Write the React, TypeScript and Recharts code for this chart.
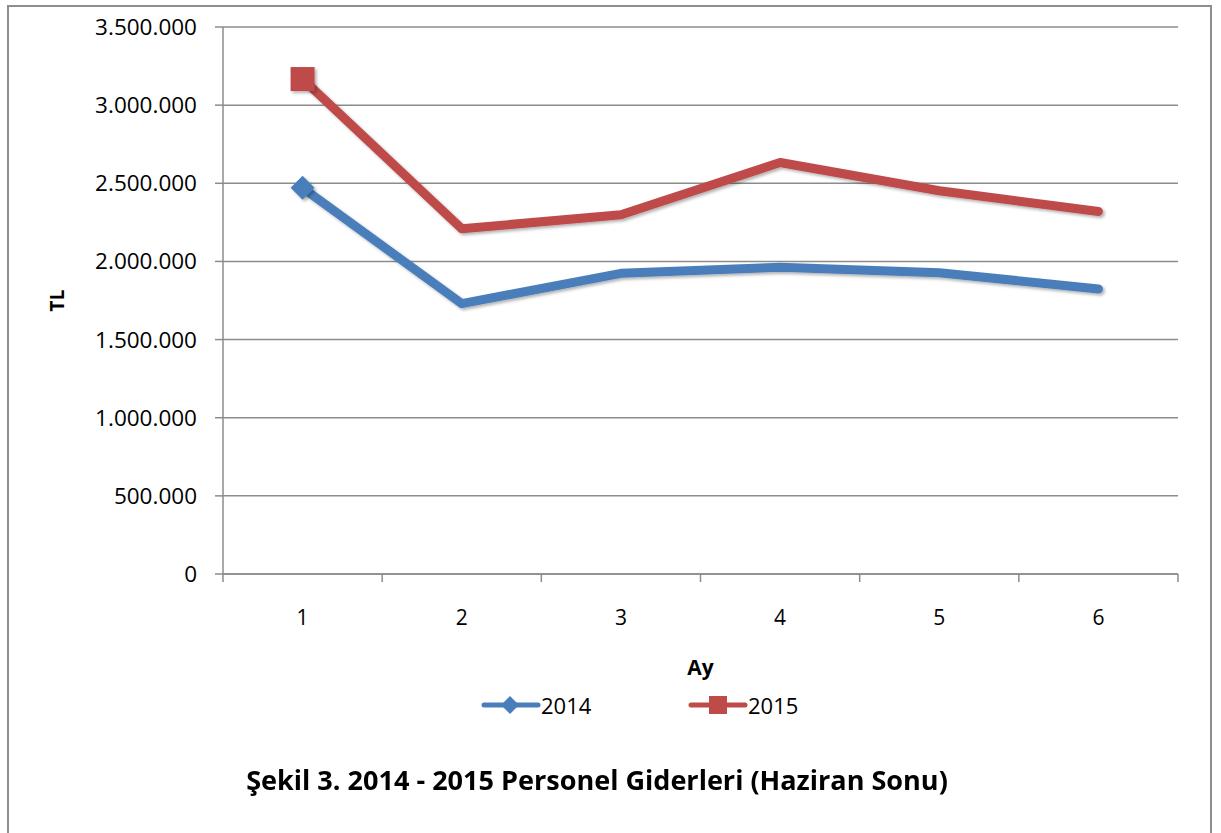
import { LineChart, Line, XAxis, YAxis, CartesianGrid, Legend } from "recharts";

const months = [1, 2, 3, 4, 5, 6];
const values2014 = [2471000, 1730000, 1924000, 1962000, 1928000, 1824000];
const values2015 = [3167000, 2209000, 2299000, 2633000, 2452000, 2320000];
const yTicks = [0, 500000, 1000000, 1500000, 2000000, 2500000, 3000000, 3500000];
const xTicks = [0.5, 1, 1.5, 2, 2.5, 3, 3.5, 4, 4.5, 5, 5.5, 6, 6.5];

const BLUE = "#4A7EBB";
const RED = "#BE4B48";
const GRID = "#8C8C8C";
const FONT = "'Open Sans', 'Liberation Sans', sans-serif";

const data = months.map((m, i) => ({ month: m, y2014: values2014[i], y2015: values2015[i] }));

const fmt = (v: number) => String(v).replace(/\B(?=(\d{3})+(?!\d))/g, ".");

const XTick = (props: any) => {
  const { x, y, payload } = props;
  if (Number.isInteger(payload.value)) {
    return (
      <text x={x} y={y + 43} textAnchor="middle" fontSize={21} fontFamily={FONT} fill="#000">
        {payload.value}
      </text>
    );
  }
  return <line x1={x} y1={y - 8} x2={x} y2={y} stroke={GRID} strokeWidth={1.5} />;
};

const FirstDiamond = (props: any) => {
  const { cx, cy, index } = props;
  if (index !== 0) return <g key={`d-${index}`} />;
  const r = 12;
  return (
    <polygon
      key={`d-${index}`}
      points={`${cx},${cy - r} ${cx + r},${cy} ${cx},${cy + r} ${cx - r},${cy}`}
      fill={BLUE}
      filter="url(#shadow)"
    />
  );
};

const FirstSquare = (props: any) => {
  const { cx, cy, index } = props;
  if (index !== 0) return <g key={`s-${index}`} />;
  const s = 12;
  return <rect key={`s-${index}`} x={cx - s} y={cy - s} width={s * 2} height={s * 2} fill={RED} filter="url(#shadow)" />;
};

const LegendContent = () => (
  <div style={{ fontFamily: FONT, fontSize: 22, color: "#000" }}>
    <svg width={60} height={24} style={{ position: "absolute", left: 481, top: 0 }}>
      <line x1={3} y1={12} x2={57} y2={12} stroke={BLUE} strokeWidth={5} strokeLinecap="round" />
      <polygon points="29,3 38,12 29,21 20,12" fill={BLUE} />
    </svg>
    <span style={{ position: "absolute", left: 541, top: -3 }}>2014</span>
    <svg width={60} height={24} style={{ position: "absolute", left: 688, top: 0 }}>
      <line x1={3} y1={12} x2={57} y2={12} stroke={RED} strokeWidth={5} strokeLinecap="round" />
      <rect x={21} y={3} width={18} height={18} fill={RED} />
    </svg>
    <span style={{ position: "absolute", left: 748, top: -3 }}>2015</span>
  </div>
);

export default function App() {
  return (
    <div style={{ position: "absolute", left: 0, top: 0, width: 1221, height: 833, background: "#fff", overflow: "hidden" }}>
      <div
        style={{
          position: "absolute",
          left: 7,
          top: 5,
          width: 1205,
          height: 840,
          border: "2px solid #8E8E8E",
          boxSizing: "border-box",
        }}
      />
      <LineChart width={1221} height={833} data={data} margin={{ top: 27, right: 43, left: 0, bottom: 139 }}>
        <defs>
          <filter id="shadow" x="-30%" y="-30%" width="160%" height="160%">
            <feDropShadow dx={2} dy={2} stdDeviation={1.5} floodColor="#000" floodOpacity={0.3} />
          </filter>
        </defs>
        <CartesianGrid vertical={false} stroke={GRID} strokeWidth={1.5} />
        <XAxis
          dataKey="month"
          type="number"
          domain={[0.5, 6.5]}
          ticks={xTicks}
          interval={0}
          height={120}
          tickSize={8}
          tickMargin={0}
          tickLine={false}
          tick={<XTick />}
          axisLine={{ stroke: GRID, strokeWidth: 1.5 }}
          label={{
            content: (p: any) => (
              <text
                x={p.viewBox.x + p.viewBox.width / 2}
                y={p.viewBox.y + 101}
                textAnchor="middle"
                fontSize={21}
                fontWeight="bold"
                fontFamily={FONT}
                fill="#000"
              >
                Ay
              </text>
            ),
          }}
        />
        <YAxis
          domain={[0, 3500000]}
          ticks={yTicks}
          interval={0}
          width={223}
          tickSize={8}
          tickMargin={18}
          tickFormatter={fmt}
          tick={{ fill: "#000", fontSize: 22.5, fontFamily: FONT }}
          tickLine={{ stroke: GRID, strokeWidth: 1.5 }}
          axisLine={{ stroke: GRID, strokeWidth: 1.5 }}
          label={{
            content: (p: any) => {
              const cx = p.viewBox.x + 57;
              const cy = p.viewBox.y + p.viewBox.height / 2;
              return (
                <text
                  x={cx}
                  y={cy}
                  transform={`rotate(-90 ${cx} ${cy})`}
                  textAnchor="middle"
                  dominantBaseline="central"
                  fontSize={19}
                  fontWeight="bold"
                  fontFamily={FONT}
                  fill="#000"
                >
                  TL
                </text>
              );
            },
          }}
        />
        <Line
          dataKey="y2014"
          name="2014"
          stroke={BLUE}
          strokeWidth={9}
          strokeLinecap="round"
          strokeLinejoin="round"
          dot={<FirstDiamond />}
          activeDot={false}
          filter="url(#shadow)"
          isAnimationActive={false}
        />
        <Line
          dataKey="y2015"
          name="2015"
          stroke={RED}
          strokeWidth={9}
          strokeLinecap="round"
          strokeLinejoin="round"
          dot={<FirstSquare />}
          activeDot={false}
          filter="url(#shadow)"
          isAnimationActive={false}
        />
        <Legend
          verticalAlign="middle"
          align="center"
          content={<LegendContent />}
          wrapperStyle={{ position: "absolute", left: 0, top: 693, width: 1221, height: 26 }}
        />
      </LineChart>
      <div
        style={{
          position: "absolute",
          left: 0,
          width: 1194,
          top: 762,
          textAlign: "center",
          fontFamily: FONT,
          fontWeight: "bold",
          fontSize: 26,
          color: "#000",
          letterSpacing: 0,
          transform: "scaleX(1.04)",
          transformOrigin: "597px 0",
        }}
      >
        Şekil 3. 2014 - 2015 Personel Giderleri (Haziran Sonu)
      </div>
    </div>
  );
}
